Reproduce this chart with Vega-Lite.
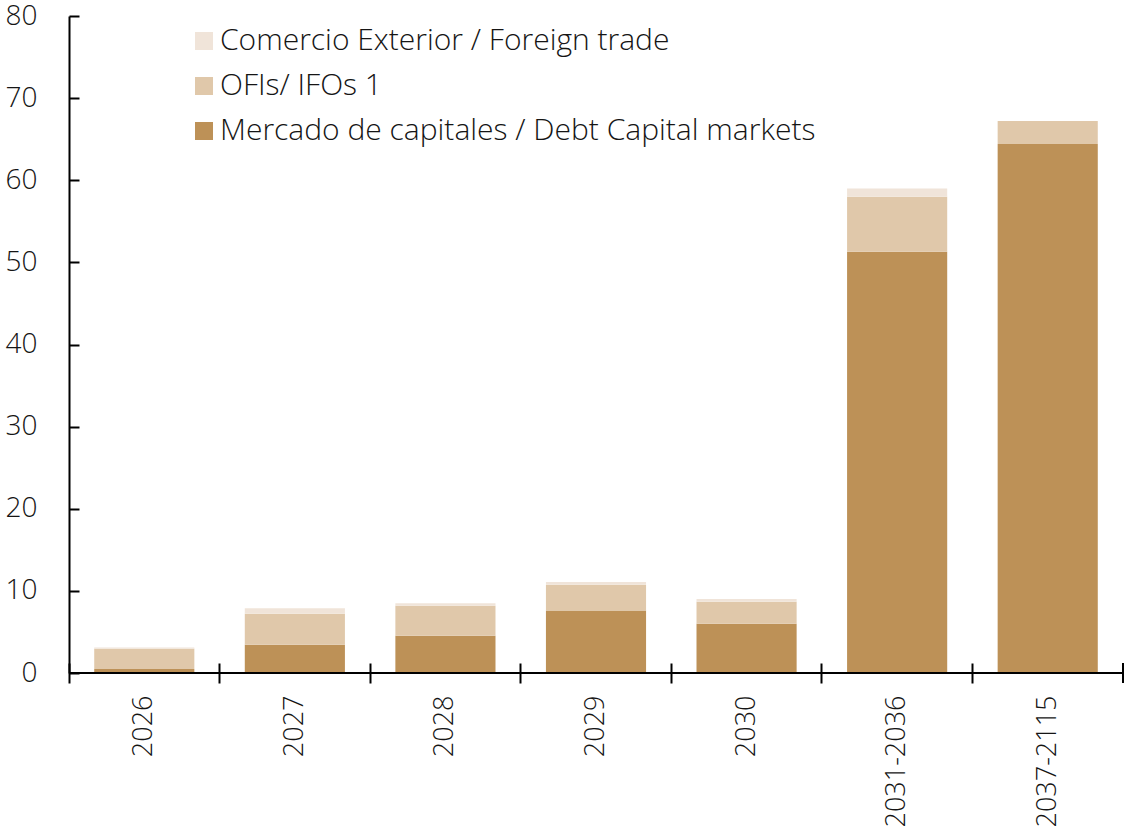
{
  "$schema": "https://vega.github.io/schema/vega-lite/v6.json",
  "autosize": {"type": "none"},
  "padding": {"left": 69, "top": 16, "right": 4, "bottom": 161},
  "width": 1054,
  "height": 657,
  "background": "white",
  "config": {
    "view": {"stroke": null},
    "font": "Open Sans",
    "axis": {"labelFont": "Open Sans", "labelColor": "#151515", "grid": false}
  },
  "data": {
    "values": [
      {"periodo": "2026", "serie": "Mercado de capitales / Debt Capital markets", "k": 1, "valor": 0.5},
      {"periodo": "2026", "serie": "OFIs/ IFOs 1", "k": 2, "valor": 2.45},
      {"periodo": "2026", "serie": "Comercio Exterior / Foreign trade", "k": 3, "valor": 0.15},
      {"periodo": "2027", "serie": "Mercado de capitales / Debt Capital markets", "k": 1, "valor": 3.45},
      {"periodo": "2027", "serie": "OFIs/ IFOs 1", "k": 2, "valor": 3.77},
      {"periodo": "2027", "serie": "Comercio Exterior / Foreign trade", "k": 3, "valor": 0.66},
      {"periodo": "2028", "serie": "Mercado de capitales / Debt Capital markets", "k": 1, "valor": 4.55},
      {"periodo": "2028", "serie": "OFIs/ IFOs 1", "k": 2, "valor": 3.65},
      {"periodo": "2028", "serie": "Comercio Exterior / Foreign trade", "k": 3, "valor": 0.3},
      {"periodo": "2029", "serie": "Mercado de capitales / Debt Capital markets", "k": 1, "valor": 7.6},
      {"periodo": "2029", "serie": "OFIs/ IFOs 1", "k": 2, "valor": 3.15},
      {"periodo": "2029", "serie": "Comercio Exterior / Foreign trade", "k": 3, "valor": 0.33},
      {"periodo": "2030", "serie": "Mercado de capitales / Debt Capital markets", "k": 1, "valor": 6.0},
      {"periodo": "2030", "serie": "OFIs/ IFOs 1", "k": 2, "valor": 2.68},
      {"periodo": "2030", "serie": "Comercio Exterior / Foreign trade", "k": 3, "valor": 0.32},
      {"periodo": "2031-2036", "serie": "Mercado de capitales / Debt Capital markets", "k": 1, "valor": 51.3},
      {"periodo": "2031-2036", "serie": "OFIs/ IFOs 1", "k": 2, "valor": 6.7},
      {"periodo": "2031-2036", "serie": "Comercio Exterior / Foreign trade", "k": 3, "valor": 1.0},
      {"periodo": "2037-2115", "serie": "Mercado de capitales / Debt Capital markets", "k": 1, "valor": 64.4},
      {"periodo": "2037-2115", "serie": "OFIs/ IFOs 1", "k": 2, "valor": 2.8},
      {"periodo": "2037-2115", "serie": "Comercio Exterior / Foreign trade", "k": 3, "valor": 0}
    ]
  },
  "layer": [
    {
      "mark": {"type": "bar", "width": {"band": 0.665}},
      "encoding": {
        "x": {
          "field": "periodo", "type": "nominal", "sort": null,
          "scale": {"paddingInner": 0, "paddingOuter": 0},
          "axis": {
            "title": null, "domain": false, "bandPosition": 0,
            "tickSize": 20, "tickWidth": 2, "tickColor": "#000000", "offset": -10,
            "labelAngle": -90, "labelFontSize": 27, "labelPadding": 12,
            "labelFontWeight": 300
          }
        },
        "y": {
          "field": "valor", "type": "quantitative", "stack": "zero",
          "scale": {"domain": [0, 80], "nice": false},
          "axis": {
            "title": null, "values": [0, 10, 20, 30, 40, 50, 60, 70, 80],
            "domainColor": "#000000", "domainWidth": 2,
            "tickColor": "#000000", "tickWidth": 2, "tickSize": -10,
            "labelFontSize": 28, "labelPadding": 42, "labelFontWeight": 300
          }
        },
        "color": {
          "field": "serie", "type": "nominal",
          "scale": {
            "domain": ["Comercio Exterior / Foreign trade", "OFIs/ IFOs 1", "Mercado de capitales / Debt Capital markets"],
            "range": ["#F0E4D9", "#E0C8AA", "#BD9157"]
          },
          "legend": {
            "title": null, "orient": "none", "legendX": 120, "legendY": 10,
            "padding": 0, "symbolType": "square", "symbolSize": 324,
            "symbolStrokeWidth": 0, "labelFontSize": 30, "labelFont": "Open Sans",
            "labelFontWeight": 300, "labelColor": "#151515",
            "labelOffset": 1, "rowPadding": 15, "labelLimit": 900
          }
        },
        "order": {"field": "k", "type": "quantitative", "sort": "ascending"}
      }
    },
    {
      "mark": {"type": "rule", "color": "#000000", "strokeWidth": 2},
      "encoding": {"y": {"datum": 0}}
    },
    {
      "mark": {"type": "tick", "orient": "vertical", "size": 20, "thickness": 2, "color": "#000000"},
      "encoding": {
        "x": {"datum": "2037-2115", "type": "nominal", "bandPosition": 1},
        "y": {"datum": 0}
      }
    }
  ]
}
